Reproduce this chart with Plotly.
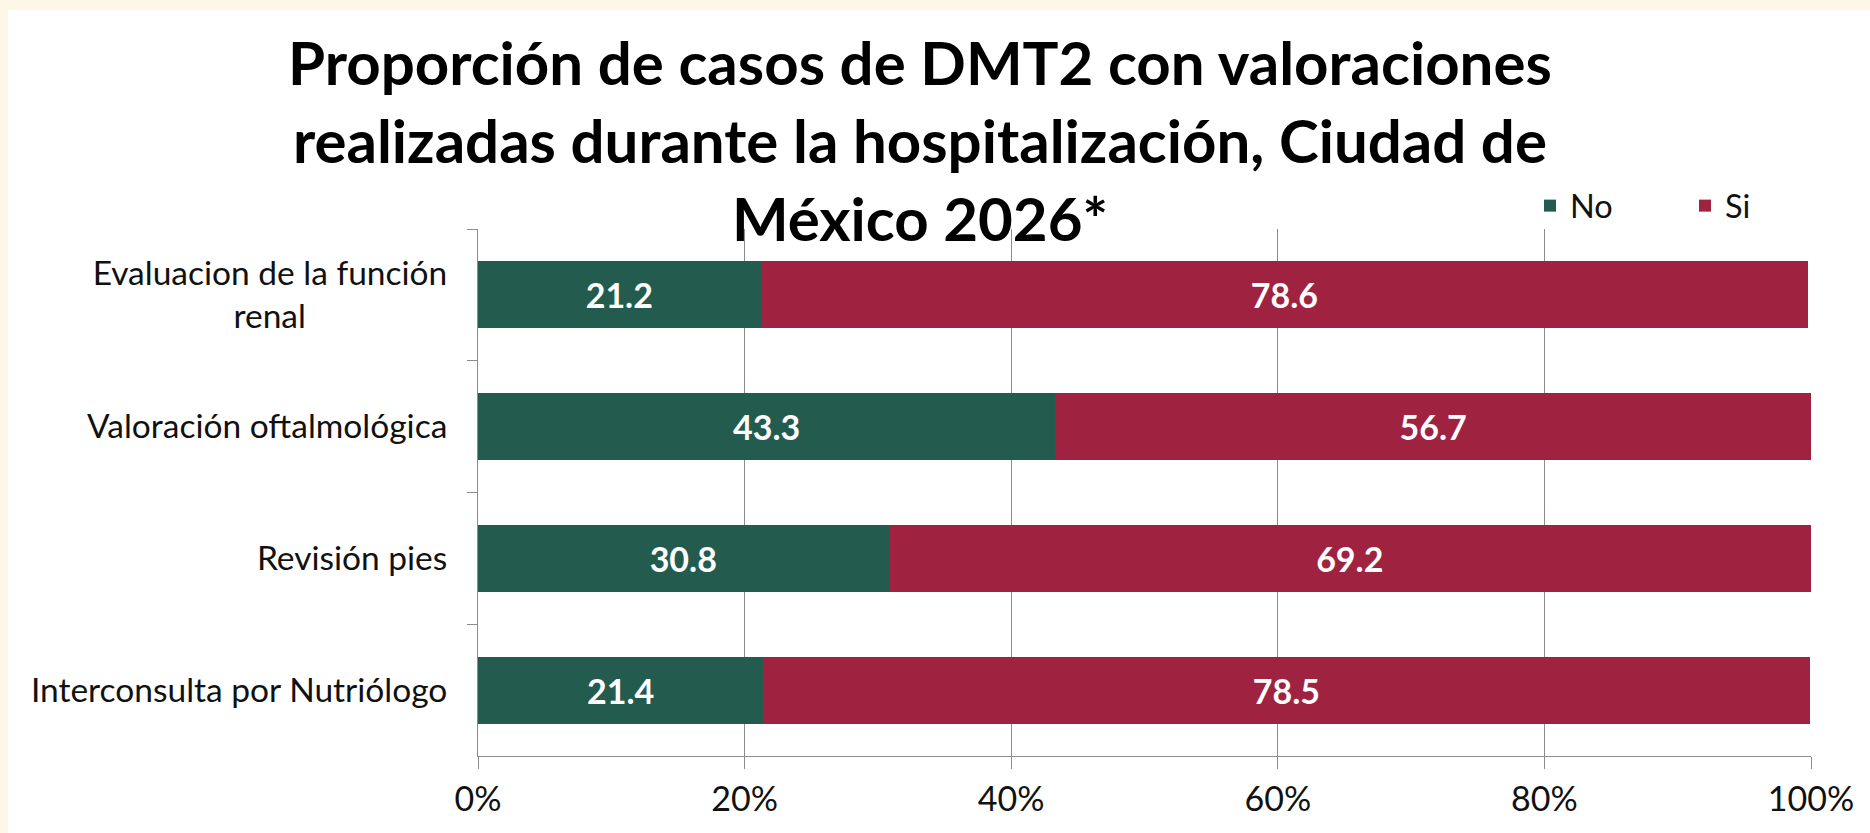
import plotly.graph_objects as go

categories = [
    "Evaluacion de la función<br>renal" + "&nbsp;" * 16 + "&#8201;",
    "Valoración oftalmológica",
    "Revisión pies",
    "Interconsulta por Nutriólogo",
]
no_values = [21.2, 43.3, 30.8, 21.4]
si_values = [78.6, 56.7, 69.2, 78.5]
series_names = ["No", "Si"]
series_colors = ["#235B4E", "#9F2241"]
x_ticks = [0, 20, 40, 60, 80, 100]
x_tick_labels = ["0%", "20%", "40%", "60%", "80%", "100%"]
title_text = ("Proporción de casos de DMT2 con valoraciones<br>"
              "realizadas durante la hospitalización, Ciudad de<br>"
              "México 2026*")

W, H = 1870, 833
L, R, T, B = 478, 59, 229, 77
pw, ph = W - L - R, H - T - B

def px_x(p):
    return (p - L) / pw

def px_y(p):
    return (H - B - p) / ph

FONT = "Lato"
fig = go.Figure()
for name, vals, col in zip(series_names, [no_values, si_values], series_colors):
    fig.add_trace(go.Bar(
        y=categories, x=vals, name=name, orientation="h",
        marker=dict(color=col, line=dict(width=0)),
        text=[f"{v:.1f}" for v in vals],
        textposition="inside", insidetextanchor="middle",
        textfont=dict(family=FONT, size=34, color="white", weight="bold"),
        constraintext="none",
    ))

fig.update_layout(
    width=W, height=H,
    barmode="stack", bargap=0.49,
    margin=dict(l=L, r=R, t=T, b=B, pad=0, autoexpand=False),
    paper_bgcolor="#FEF7E7", plot_bgcolor="white",
    font=dict(family=FONT, size=33, color="#111111"),
    showlegend=True,
    legend=dict(orientation="h", x=px_x(1530), y=px_y(206), xanchor="left", yanchor="middle",
                font=dict(size=32.5), bgcolor="rgba(0,0,0,0)",
                entrywidth=110, entrywidthmode="pixels", traceorder="normal"),
    shapes=[dict(type="rect", xref="paper", yref="paper", layer="below",
                 x0=px_x(8), x1=px_x(W + 20), y0=px_y(H + 20), y1=px_y(10),
                 fillcolor="white", line=dict(width=0))],
    annotations=[dict(text=title_text, xref="paper", yref="paper",
                      x=px_x(920), y=px_y(140), xanchor="center", yanchor="middle",
                      showarrow=False, align="center",
                      font=dict(family=FONT, size=60, color="black", weight="bold"))],
)
fig.update_xaxes(range=[0, 100], tickvals=x_ticks, ticktext=x_tick_labels,
                 showgrid=True, gridcolor="#8C8C8C", gridwidth=1,
                 showline=True, linecolor="#8C8C8C", linewidth=1,
                 ticks="outside", ticklen=12, tickcolor="#8C8C8C",
                 ticklabelstandoff=1, zeroline=False, automargin=False,
                 tickfont=dict(size=34))
fig.update_yaxes(autorange="reversed", showline=True, linecolor="#8C8C8C", linewidth=1,
                 ticks="outside", ticklen=10, tickcolor="#8C8C8C", tickson="boundaries",
                 ticklabelstandoff=23, showgrid=False, automargin=False,
                 tickfont=dict(size=33.5))

fig.write_html("out.html", config={"displayModeBar": False},
               post_script="document.body.style.margin='0px';document.body.style.overflow='hidden';")
